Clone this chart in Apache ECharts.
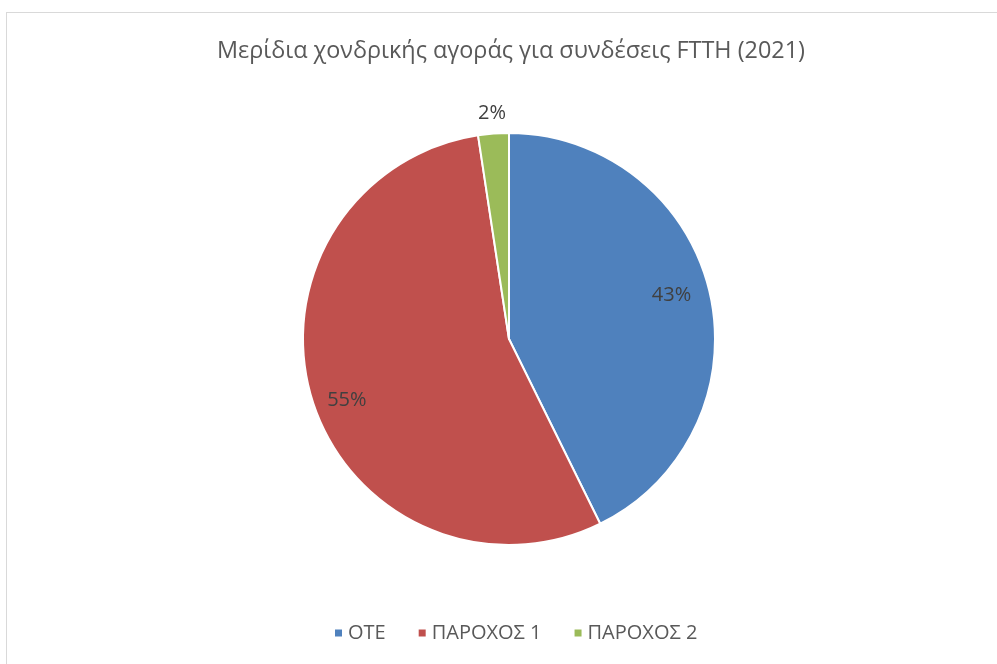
<!DOCTYPE html>
<html>
<head>
<meta charset="utf-8">
<script src="https://cdn.jsdelivr.net/npm/echarts@6/dist/echarts.min.js"></script>
<style>
  html, body { margin: 0; padding: 0; background: #fff; overflow: hidden; }
  #frame { position: absolute; left: 6px; top: 12px; width: 1010px; height: 700px; border: 1px solid #d9d9d9; box-sizing: border-box; }
  #main { position: absolute; left: 0; top: 0; width: 997px; height: 664px; }
</style>
</head>
<body>
<div id="frame"></div>
<div id="main"></div>
<script>
const titleText = "Μερίδια χονδρικής αγοράς για συνδέσεις FTTH (2021)";
const categories = ["ΟΤΕ", "ΠΑΡΟΧΟΣ 1", "ΠΑΡΟΧΟΣ 2"];
const shares = [42.7, 54.9, 2.4];
const colors = ["#4F81BD", "#C0504D", "#9BBB59"];

const pieCenter = [509, 339];
const pieRadius = 206;
const fontFamily = "'Open Sans', 'Noto Sans', sans-serif";

var myChart = echarts.init(document.getElementById("main"));

const option = {
  backgroundColor: "transparent",
  color: colors,
  title: {
    text: titleText,
    left: 212,
    top: 35,
    textStyle: {
      color: "#595959",
      fontSize: 23.4,
      fontWeight: "normal",
      fontFamily: fontFamily,
    },
  },
  legend: {
    bottom: 16,
    left: 328,
    icon: "rect",
    itemWidth: 9,
    itemHeight: 9,
    itemGap: 31,
    textStyle: {
      color: "#595959",
      fontSize: 20,
      fontFamily: fontFamily,
    },
    data: categories,
  },
  series: [
    {
      type: "pie",
      center: pieCenter,
      radius: [0, pieRadius],
      startAngle: 90,
      clockwise: true,
      animation: false,
      itemStyle: {
        borderColor: "#fff",
        borderWidth: 2,
      },
      label: {
        show: true,
        position: "inside",
        color: "#404040",
        fontSize: 20,
        fontFamily: fontFamily,
        formatter: (p) => Math.round(p.value) + "%",
      },
      labelLine: { show: false },
      // push labels outward along their slice direction (like Excel best fit)
      labelLayout: (params) => {
        const r = params.labelRect;
        const cx = r.x + r.width / 2;
        const cy = r.y + r.height / 2;
        const vx = cx - pieCenter[0];
        const vy = cy - pieCenter[1];
        const len = Math.sqrt(vx * vx + vy * vy) || 1;
        const small = shares[params.dataIndex] < 5;
        const target = small ? pieRadius * 1.1 : pieRadius * 0.82;
        // excel best-fit places labels a bit off the mid-angle
        const nudge = [[-2, -5], [-1, 11], [0, 0]][params.dataIndex];
        return {
          dx: (vx / len) * target - vx + nudge[0],
          dy: (vy / len) * target - vy + nudge[1],
        };
      },
      data: categories.map((name, i) => ({ name: name, value: shares[i] })),
    },
  ],
};

myChart.setOption(option);
</script>
</body>
</html>
